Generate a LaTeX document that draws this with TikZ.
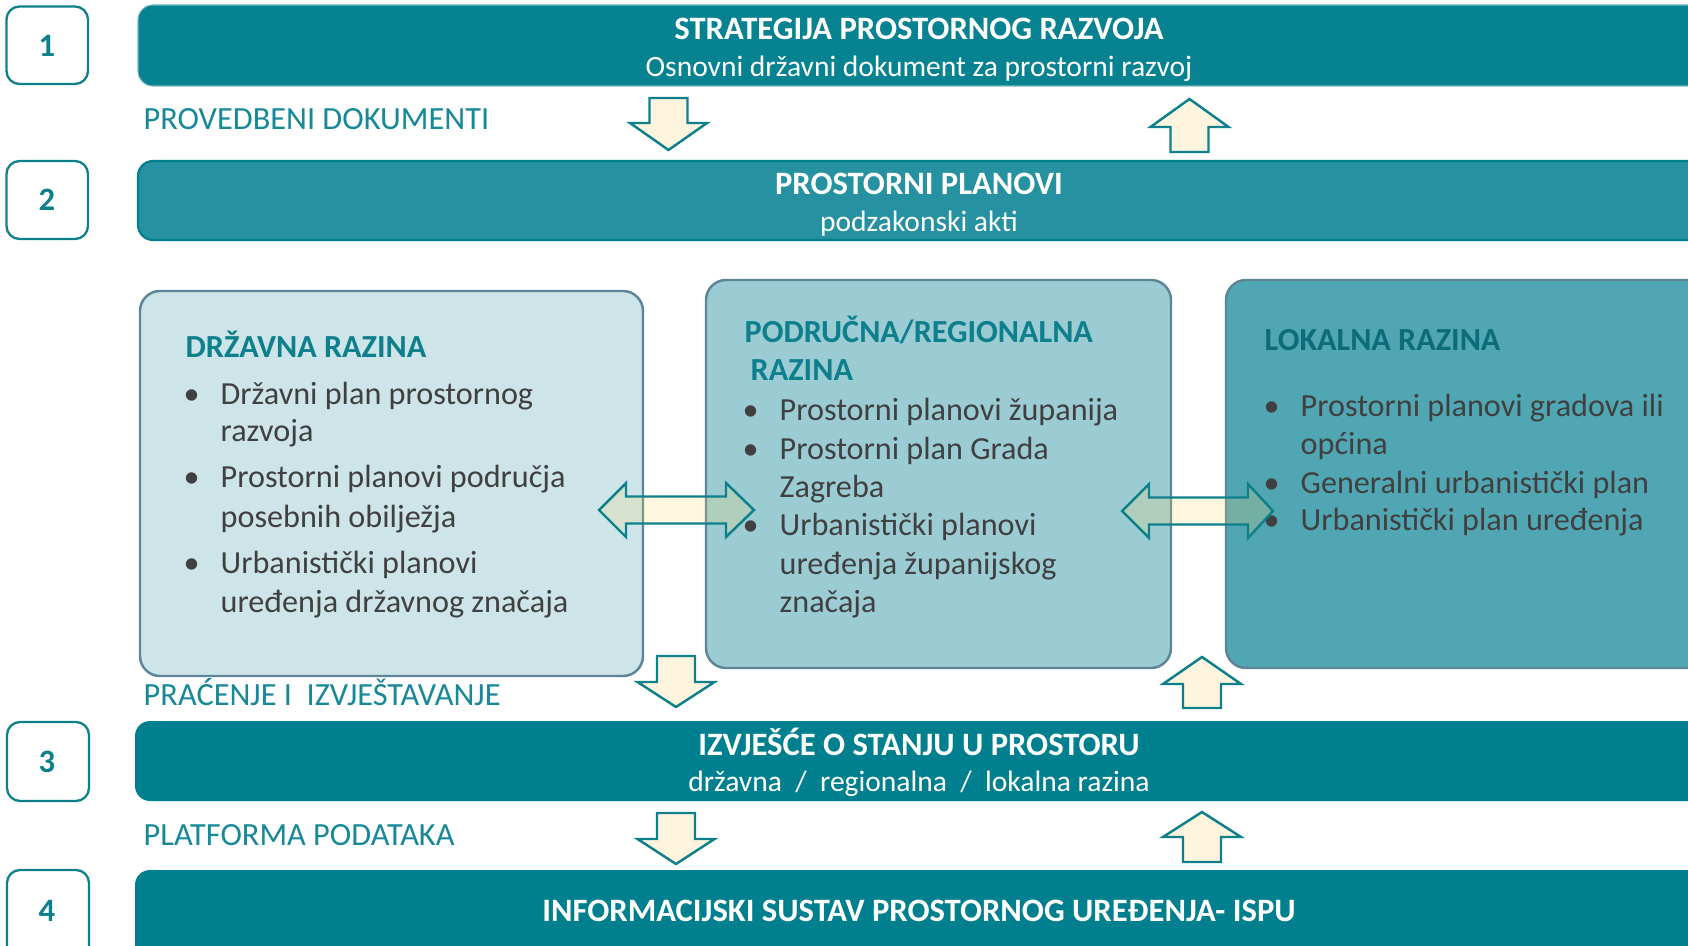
\documentclass[tikz,border=0pt]{standalone}
\usepackage{fontspec}
\setmainfont{Carlito}
\definecolor{bannerA}{RGB}{7,130,145}
\definecolor{bannerB}{RGB}{38,145,160}
\definecolor{bannerC}{RGB}{0,128,143}
\definecolor{tealline}{RGB}{14,128,140}
\definecolor{tealtext}{RGB}{23,136,152}
\definecolor{headA}{RGB}{14,127,140}
\definecolor{headC}{RGB}{12,108,120}
\definecolor{boxA}{RGB}{205,229,233}
\definecolor{boxB}{RGB}{155,204,211}
\definecolor{boxC}{RGB}{80,166,178}
\definecolor{boxline}{RGB}{94,133,151}
\definecolor{cream}{RGB}{255,245,222}
\definecolor{gold}{RGB}{255,215,100}
\definecolor{bodytext}{RGB}{64,64,64}
\newcommand\tfnt{\fontsize{9.28}{10}\selectfont}
\newcommand\ifnt{\fontsize{9.15}{10}\selectfont}
\newcommand\lfnt{\fontsize{9.2}{10}\selectfont}
\newcommand\sfnt{\fontsize{8.4}{10}\selectfont}
\newcommand\DArr[4]{\draw[varrow] ({#1-19},#2) -- ({#1+19},#2) -- ({#1+19},#3) -- ({#1+38.5},#3) -- (#1,#4) -- ({#1-38.5},#3) -- ({#1-19},#3) -- cycle;}
\newcommand\UArr[4]{\draw[varrow] (#1,#2) -- ({#1+39},#3) -- ({#1+19},#3) -- ({#1+19},#4) -- ({#1-19},#4) -- ({#1-19},#3) -- ({#1-39},#3) -- cycle;}
\newcommand\HArr[5]{\draw[harrow] (#1,#5) -- (#2,{#5-27}) -- (#2,{#5-13.5}) -- (#3,{#5-13.5}) -- (#3,{#5-27}) -- (#4,#5) -- (#3,{#5+27}) -- (#3,{#5+13.5}) -- (#2,{#5+13.5}) -- (#2,{#5+27}) -- cycle;}
\begin{document}
\begin{tikzpicture}[x=0.01cm,y=-0.01cm,
  numbox/.style={draw=tealline, line width=0.65pt, fill=white, rounded corners=0.13cm},
  numtext/.style={anchor=base, inner sep=0, text=tealline, font=\tfnt\bfseries},
  banner/.style={rounded corners=0.15cm},
  btitle/.style={anchor=base, inner sep=0, text=white, font=\tfnt\bfseries},
  bsub/.style={anchor=base, inner sep=0, text=white, font=\sfnt},
  label/.style={anchor=base west, inner sep=0, text=tealtext, font=\lfnt},
  level/.style={draw=boxline, line width=0.7pt, rounded corners=0.2cm},
  lhead/.style={anchor=base west, inner sep=0, font=\ifnt\bfseries},
  item/.style={anchor=base west, inner sep=0, text=bodytext, font=\ifnt},
  varrow/.style={draw=tealline, line width=0.7pt, fill=cream, line join=miter},
  harrow/.style={draw=tealline, line width=0.7pt, fill=gold, fill opacity=0.2, line join=miter}]
\useasboundingbox (0,0) rectangle (1688,946);
\clip (0,0) rectangle (1688,946);
\fill[white] (0,0) rectangle (1688,946);

% number boxes
\draw[numbox] (6.5,6.5) rectangle (88,84);
\draw[numbox] (6.5,161) rectangle (88,239);
\draw[numbox] (7,722) rectangle (89,801);
\draw[numbox] (7,870) rectangle (89,980);
\node[numtext] (n1) at (47,57) {1};
\node[numtext] (n2) at (47,211) {2};
\node[numtext] (n3) at (47,772) {3};
\node[numtext] (n4) at (47,921) {4};

% banners
\draw[banner, fill=bannerA, draw=bannerA!55!white, line width=0.3pt] (138,5) rectangle (1740,86);
\draw[banner, fill=bannerB, draw=bannerC, line width=0.6pt] (138,161) rectangle (1740,240);
\fill[banner, bannerC] (135,721) rectangle (1740,801);
\fill[banner, bannerC] (135,870) rectangle (1740,990);

\node[btitle] (t1) at (919,40) {STRATEGIJA PROSTORNOG RAZVOJA};
\node[bsub] (s1) at (919,76.5) {Osnovni državni dokument za prostorni razvoj};
\node[btitle] (t2) at (919,195) {PROSTORNI PLANOVI};
\node[bsub] (s2) at (919,232) {podzakonski akti};
\node[btitle] (t3) at (919,755.5) {IZVJEŠĆE O STANJU U PROSTORU};
\node[bsub] (s3) at (919,791) {državna \ / \ regionalna \ / \ lokalna razina};
\node[btitle] (t4) at (919,921) {INFORMACIJSKI SUSTAV PROSTORNOG UREĐENJA- ISPU};

% labels
\node[label] (l1) at (143,130) {PROVEDBENI DOKUMENTI};
\node[label] (l2) at (143,705) {PRAĆENJE I \ IZVJEŠTAVANJE};
\node[label] (l3) at (143,845) {PLATFORMA PODATAKA};

% level boxes
\draw[level, fill=boxA] (140,291) rectangle (643,676);
\draw[level, fill=boxB] (706,280) rectangle (1171,668);
\draw[level, fill=boxC] (1226,280) rectangle (1710,668);

% box A text
\node[lhead, text=headA] (ha) at (185,358) {DRŽAVNA RAZINA};
\foreach \yy in {405,488,573} \node[item] at (183,\yy) {•};
\node[item] (a1) at (220,405) {Državni plan prostornog};
\node[item] (a2) at (220,442) {razvoja};
\node[item] (a3) at (220,488) {Prostorni planovi područja};
\node[item] (a4) at (220,527) {posebnih obilježja};
\node[item] (a5) at (220,573) {Urbanistički planovi};
\node[item] (a6) at (220,612) {uređenja državnog značaja};

% box B text
\node[lhead, text=headA] (hb1) at (744,343) {PODRUČNA/REGIONALNA};
\node[lhead, text=headA] (hb2) at (750,380) {RAZINA};
\foreach \yy in {420,459,535} \node[item] at (742,\yy) {•};
\node[item] (b1) at (779,420) {Prostorni planovi županija};
\node[item] (b2) at (779,459) {Prostorni plan Grada};
\node[item] (b3) at (779,497) {Zagreba};
\node[item] (b4) at (779,535) {Urbanistički planovi};
\node[item] (b5) at (779,574) {uređenja županijskog};
\node[item] (b6) at (779,612) {značaja};

% box C text
\node[lhead, text=headC] (hc) at (1264,351) {LOKALNA RAZINA};
\foreach \yy in {417,494,531} \node[item] at (1263,\yy) {•};
\node[item] (c1) at (1300,417) {Prostorni planovi gradova ili};
\node[item] (c2) at (1300,455) {općina};
\node[item] (c3) at (1300,494) {Generalni urbanistički plan};
\node[item] (c4) at (1300,531) {Urbanistički plan uređenja};

% double arrows
\HArr{599}{626}{726}{754}{510}
\HArr{1122}{1149}{1248}{1273}{511}

% vertical arrows
\DArr{668.5}{98}{123}{150}
\UArr{1189.5}{99}{127}{152}
\DArr{676}{656}{682}{707}
\UArr{1202}{657}{684}{708}
\DArr{676}{813}{839}{864}
\UArr{1202}{812}{837}{862}
\end{tikzpicture}
\end{document}
